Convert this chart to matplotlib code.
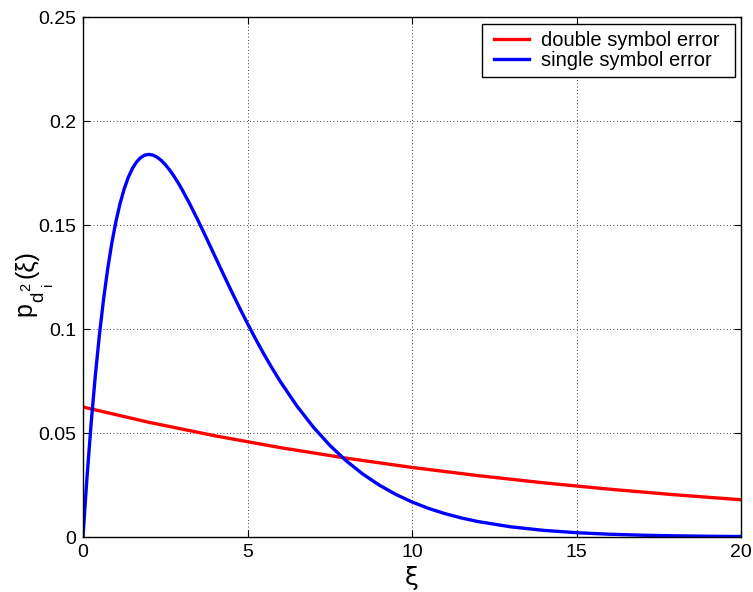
import matplotlib
matplotlib.use("Agg")
import matplotlib.pyplot as plt
from matplotlib.patches import Rectangle

plt.rcParams['font.family'] = ['Liberation Sans', 'DejaVu Sans']

# single symbol error (blue)
x_single = [0, 0.05, 0.1, 0.125, 0.25, 0.375, 0.5, 0.625, 0.75, 0.875, 1.0,
            1.125, 1.25, 1.375, 1.5, 1.625, 1.75, 1.875, 2.0, 2.125, 2.25,
            2.375, 2.5, 2.625, 2.75, 2.875, 3.0, 3.25, 3.5, 3.75, 4.0, 4.25,
            4.5, 4.75, 5.0, 5.25, 5.5, 5.75, 6.0, 6.5, 7.0, 7.5, 8.0, 8.5,
            9.0, 9.5, 10, 10.5, 11, 11.5, 12, 13, 14, 15, 16, 17, 18, 19, 20]
y_single = [0.0, 0.01219, 0.02378, 0.02936, 0.05516, 0.07772, 0.09735,
            0.11431, 0.12887, 0.14124, 0.15163, 0.16025, 0.16727, 0.17285,
            0.17714, 0.18027, 0.18238, 0.18358, 0.18394, 0.18361, 0.18262,
            0.18109, 0.17906, 0.17663, 0.17383, 0.17073, 0.16735, 0.15999,
            0.15205, 0.14377, 0.13534, 0.12689, 0.11858, 0.11045, 0.10261,
            0.09508, 0.08790, 0.08110, 0.07468, 0.06301, 0.05285, 0.04410,
            0.03663, 0.03031, 0.02500, 0.02055, 0.01684, 0.01377, 0.01124,
            0.00915, 0.00744, 0.00489, 0.00319, 0.00207, 0.00134, 0.00086,
            0.00056, 0.00036, 0.00023]

# double symbol error (red)
x_double = [0, 2, 4, 6, 8, 10, 12, 14, 16, 18, 20]
y_double = [0.0625, 0.05516, 0.04868, 0.04296, 0.03791, 0.03345, 0.02952,
            0.02605, 0.02299, 0.02029, 0.01791]

x_ticks = [0, 5, 10, 15, 20]
y_ticks = [0, 0.05, 0.1, 0.15, 0.2, 0.25]
y_ticklabels = ['0', '0.05', '0.1', '0.15', '0.2', '0.25']

W, H = 753, 592
fig = plt.figure(figsize=(W / 100, H / 100), dpi=100)
ax = fig.add_axes([83 / W, 1 - 537 / H, (741 - 83) / W, (537 - 17) / H])

ax.plot(x_double, y_double, color='#ff0000', lw=2.4, label='double symbol error',
        solid_joinstyle='round')
ax.plot(x_single, y_single, color='#0000ff', lw=2.4, label='single symbol error',
        solid_joinstyle='round')

ax.set_xlim(0, 20)
ax.set_ylim(0, 0.25)
ax.set_xticks(x_ticks)
ax.set_yticks(y_ticks)
ax.set_yticklabels(y_ticklabels)
ax.tick_params(direction='in', labelsize=14, length=5, width=0.8, top=True,
               right=True, pad=5)
ax.grid(True, color='black', linestyle=(0, (1, 3)), linewidth=0.6)
for s in ax.spines.values():
    s.set_linewidth(1.0)

ax.set_xlabel('ξ', fontsize=18, family=['DejaVu Sans'], labelpad=4)


def ptxt(px, py, s, size):
    fig.text(px / W, 1 - py / H, s, fontsize=size, rotation=90,
             ha='center', va='center')


# y-label  p_{d_i^2}(ξ)
ptxt(24, 309, 'p', 18)
ptxt(39, 297, 'd', 13.5)
ptxt(26, 287, '2', 10.5)
ptxt(48, 284, 'i', 10.5)
ptxt(26, 264, '(ξ)', 18)

leg = ax.legend(loc='upper right', fontsize=14.5, frameon=False,
                bbox_to_anchor=((725 - 83) / 658, 1 - (26 - 17) / 520),
                borderaxespad=0, handlelength=1.75, borderpad=0.25,
                labelspacing=0.05, handletextpad=0.6)
leg.set_zorder(6)

# MATLAB-like legend box: wider horizontal padding than vertical
fig.canvas.draw()
bb = leg.get_window_extent()
box = Rectangle((bb.x0 - 7, bb.y0 - 2), bb.width + 17, bb.height + 4,
                transform=None, facecolor='white', edgecolor='black',
                linewidth=1.0, zorder=5.5)
ax.add_artist(box)

fig.savefig('out.png', dpi=100)
